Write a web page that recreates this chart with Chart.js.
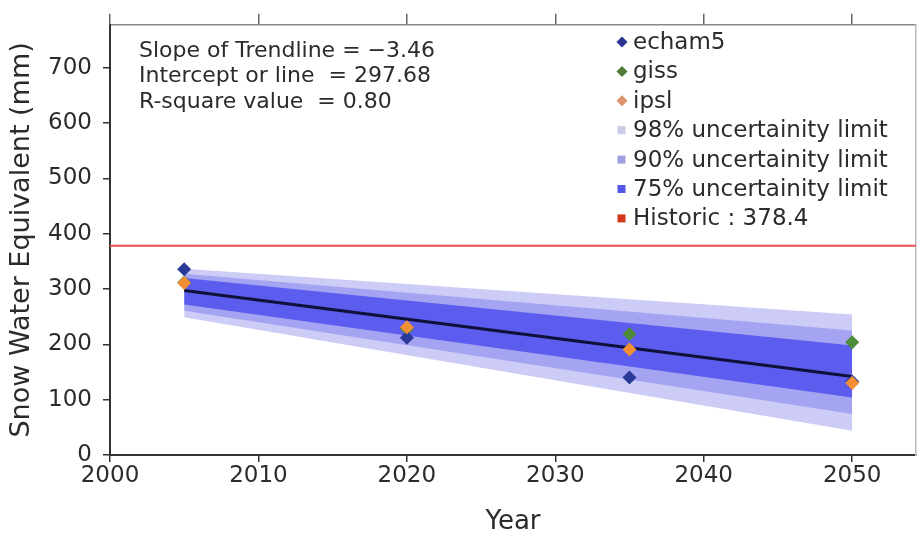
<!DOCTYPE html>
<html>
<head>
<meta charset="utf-8">
<title>Snow Water Equivalent projections</title>
<script src="https://cdn.jsdelivr.net/npm/chart.js@4.4.1/dist/chart.umd.min.js"></script>
<style>
  html, body { margin: 0; padding: 0; background: #fff; }
  #wrap { width: 923px; height: 533px; }
</style>
</head>
<body>
<div id="wrap"><canvas id="sweChart" width="923" height="533"></canvas></div>
<script>
// projected SWE (mm) per model
const years = [2005, 2020, 2035, 2050]
const echam5 = [336, 212, 140, 133]
const giss = [312, 228, 219, 204]
const ipsl = [311, 231, 191, 130]

// regression summary
const slope = -3.46
const intercept = 297.68
const rSquare = 0.80
const historic = 378.4

// uncertainty envelopes, first and last projection year
const bandYears = [2005, 2050]
const upper98 = [337, 254]
const lower98 = [249, 44]
const upper90 = [328, 225]
const lower90 = [261, 74]
const upper75 = [320, 198]
const lower75 = [272, 104]

const xTicks = [2000, 2010, 2020, 2030, 2040, 2050]
const yTicks = [0, 100, 200, 300, 400, 500, 600, 700]

const colors = {
    echam5: '#2a3a98',
    giss: '#4d8a3a',
    ipsl: '#f28f35',
    band98: 'rgb(204,204,246)',
    band90: 'rgb(164,164,242)',
    band75: 'rgb(92,92,238)',
    historic: '#e8504c',
    trend: '#10103a'
}

const legendLabels = ['echam5', 'giss', 'ipsl', '98% uncertainity limit', '90% uncertainity limit', '75% uncertainity limit', 'Historic : ' + historic]
const legendColors = ['#2b3590', '#4f7d35', '#dc946c', '#c6cbe8', '#a29fe0', '#5656e6', '#d2391a']
const legendShapes = ['diamond', 'diamond', 'diamond', 'square', 'square', 'square', 'square']

const statLines = [
    'Slope of Trendline = \u2212' + Math.abs(slope).toFixed(2),
    'Intercept or line  = ' + intercept.toFixed(2),
    'R-square value  = ' + rSquare.toFixed(2)
]

const xMin = 2000, xMax = 2054.3
const yMin = 0, yMax = 778

const pts = vals => years.map((yr, i) => ({ x: yr, y: vals[i] }))
const edge = vals => bandYears.map((yr, i) => ({ x: yr, y: vals[i] }))
const trend = bandYears.map(yr => ({ x: yr, y: intercept + slope * (yr - bandYears[0]) }))

function scatterSet(label, vals, color) {
    return {
        label: label,
        data: pts(vals),
        showLine: false,
        pointStyle: 'rectRot',
        pointRadius: 7,
        backgroundColor: color,
        borderColor: color,
        borderWidth: 0
    }
}

function bandSet(label, vals, color, fill) {
    return {
        label: label,
        data: edge(vals),
        showLine: true,
        borderWidth: 0,
        borderColor: 'rgba(0,0,0,0)',
        backgroundColor: color,
        pointRadius: 0,
        fill: fill
    }
}

// text box and legend inside the plot
const annotations = {
    id: 'annotations',
    afterDraw(chart) {
        const ctx = chart.ctx
        ctx.save()
        ctx.fillStyle = '#2b2b2b'
        ctx.textBaseline = 'middle'
        ctx.font = '22px "DejaVu Sans"'
        statLines.forEach((t, i) => ctx.fillText(t, 139, 51 + i * 25.7))

        ctx.font = '23px "DejaVu Sans"'
        legendLabels.forEach((t, i) => {
            const y = 42 + i * 29.4
            ctx.fillStyle = legendColors[i]
            if (legendShapes[i] === 'diamond') {
                ctx.beginPath()
                ctx.moveTo(622, y - 5.5)
                ctx.lineTo(627.5, y)
                ctx.lineTo(622, y + 5.5)
                ctx.lineTo(616.5, y)
                ctx.closePath()
                ctx.fill()
            } else {
                ctx.fillRect(617.5, y - 4, 8, 8)
            }
            ctx.fillStyle = '#2b2b2b'
            ctx.fillText(t, 633, y + 1)
        })
        ctx.restore()
    }
}

const ctx = document.getElementById('sweChart').getContext('2d')
Chart.defaults.font.family = '"DejaVu Sans", "Liberation Sans", sans-serif'
Chart.defaults.color = '#2b2b2b'

const chart = new Chart(ctx, {
    type: 'scatter',
    data: {
        datasets: [
            scatterSet('ipsl', ipsl, colors.ipsl),
            scatterSet('echam5', echam5, colors.echam5),
            scatterSet('giss', giss, colors.giss),
            {
                label: 'trend',
                data: trend,
                showLine: true,
                borderColor: colors.trend,
                borderWidth: 3,
                pointRadius: 0
            },
            {
                label: 'Historic',
                data: [{ x: xMin, y: historic }, { x: xMax, y: historic }],
                showLine: true,
                borderColor: colors.historic,
                borderWidth: 2,
                pointRadius: 0
            },
            bandSet('75% upper', upper75, colors.band75, '+1'),
            bandSet('75% lower', lower75, colors.band75, false),
            bandSet('90% upper', upper90, colors.band90, '+1'),
            bandSet('90% lower', lower90, colors.band90, false),
            bandSet('98% upper', upper98, colors.band98, '+1'),
            bandSet('98% lower', lower98, colors.band98, false)
        ]
    },
    options: {
        responsive: false,
        animation: false,
        devicePixelRatio: 1,
        layout: { padding: 0 },
        plugins: {
            legend: { display: false },
            tooltip: { enabled: false }
        },
        scales: {
            x: {
                type: 'linear',
                position: 'bottom',
                min: xMin,
                max: xMax,
                afterBuildTicks: s => { s.ticks = xTicks.map(v => ({ value: v })) },
                afterFit: s => { s.height = 78 },
                ticks: { font: { size: 23 }, padding: 0, color: '#2b2b2b', callback: v => String(v) },
                grid: { drawOnChartArea: false, drawTicks: true, tickLength: 7, color: '#333', lineWidth: 1.5 },
                border: { color: '#333', width: 2 },
                title: { display: true, text: 'Year', font: { size: 26, lineHeight: 1 }, padding: { top: 0, bottom: -2 }, color: '#2b2b2b' }
            },
            xTop: {
                type: 'linear',
                position: 'top',
                min: xMin,
                max: xMax,
                afterBuildTicks: s => { s.ticks = xTicks.map(v => ({ value: v })) },
                afterFit: s => { s.height = 17 },
                ticks: { display: false },
                grid: { drawOnChartArea: false, drawTicks: true, tickLength: 11, color: '#666', lineWidth: 1.5 },
                border: { color: '#888', width: 1.5 }
            },
            y: {
                type: 'linear',
                position: 'left',
                min: yMin,
                max: yMax,
                afterBuildTicks: s => { s.ticks = yTicks.map(v => ({ value: v })) },
                afterFit: s => { s.width = 110 },
                ticks: { font: { size: 23 }, padding: 11, color: '#2b2b2b', callback: v => String(v) },
                grid: { drawOnChartArea: false, drawTicks: true, tickLength: 7, color: '#333', lineWidth: 1.5 },
                border: { color: '#333', width: 2 },
                title: { display: true, text: 'Snow Water Equivalent (mm)', font: { size: 27 }, padding: { top: 6, bottom: 0 }, color: '#2b2b2b' }
            },
            yRight: {
                type: 'linear',
                position: 'right',
                min: yMin,
                max: yMax,
                afterFit: s => { s.width = 6 },
                ticks: { display: false },
                grid: { drawOnChartArea: false, drawTicks: false },
                border: { color: '#bbb', width: 1.5 }
            }
        }
    },
    plugins: [annotations]
})
</script>
</body>
</html>
